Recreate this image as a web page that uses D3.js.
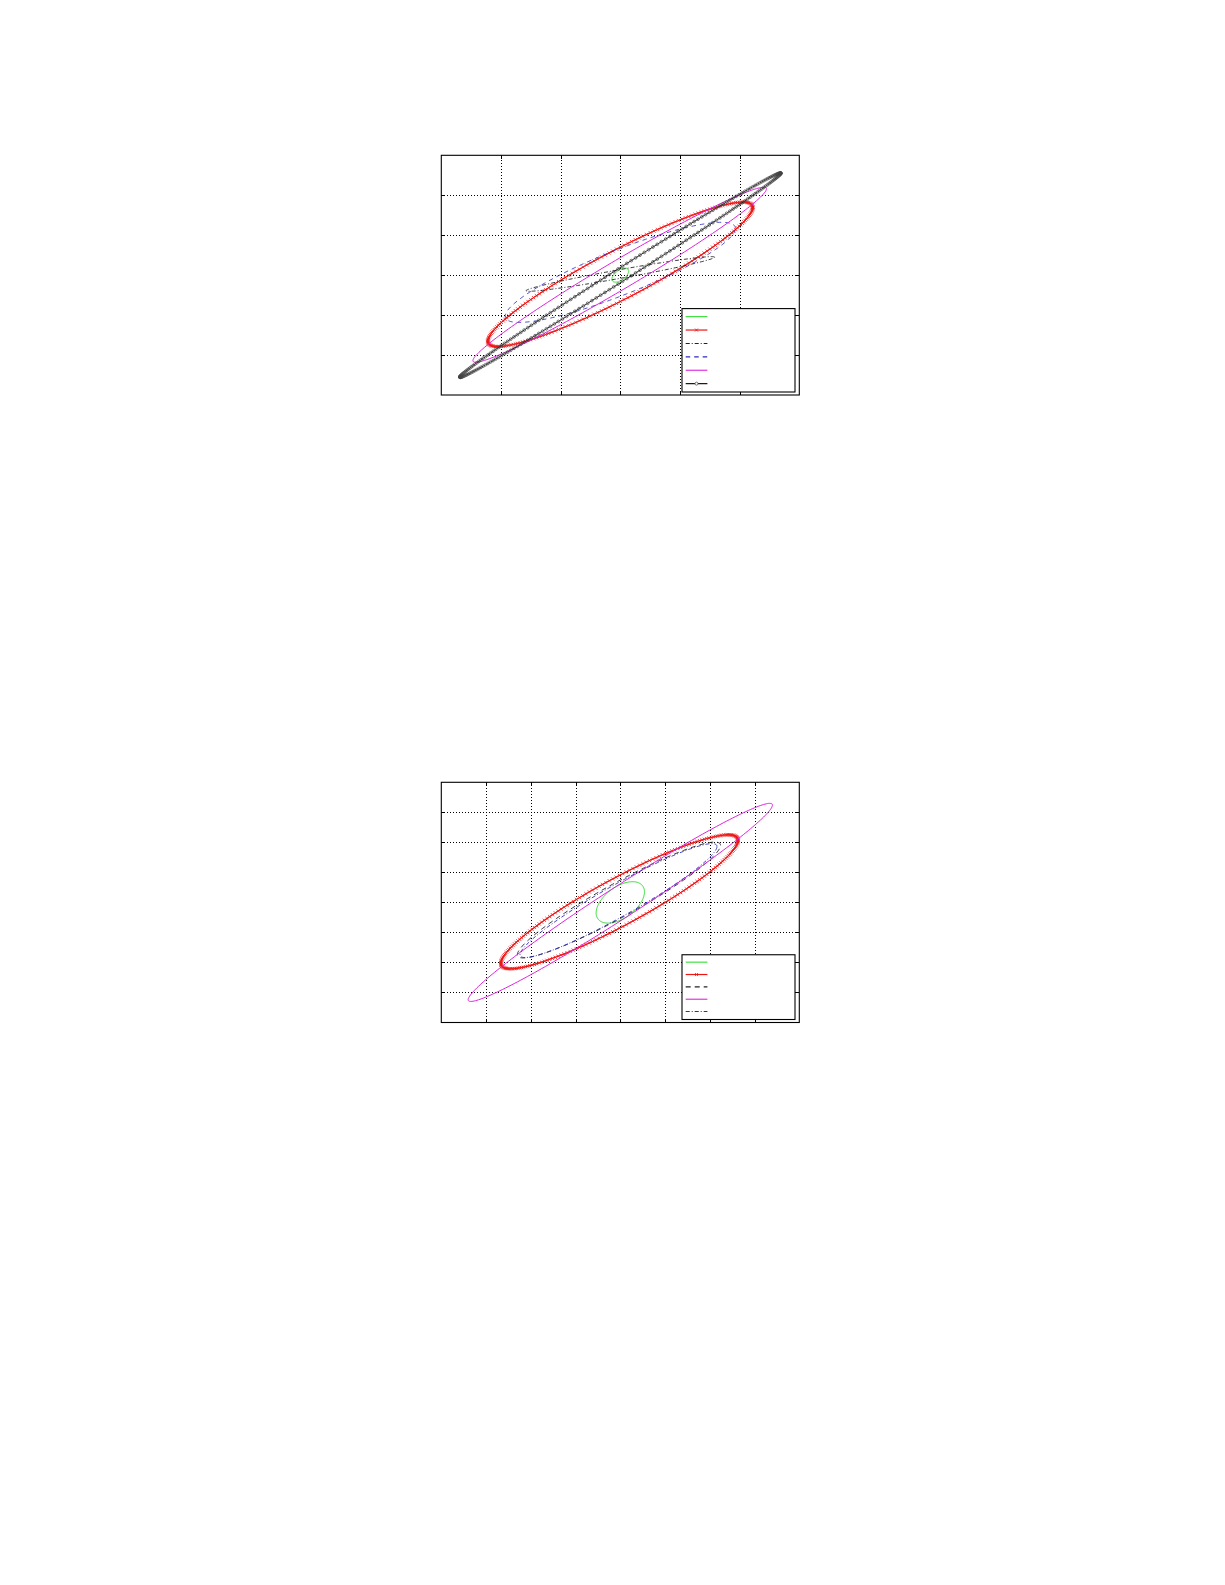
<!DOCTYPE html>
<html>
<head>
<meta charset="utf-8">
<script src="https://cdn.jsdelivr.net/npm/d3@7"></script>
<style>
  body { margin: 0; background: #fff; }
  svg { display: block; }
</style>
</head>
<body>
<div id="figure"></div>
<script>
// ---- data (data units of each panel) ----

// top panel: axis limits and tick values
var topXDomain = [-3, 3];
var topYDomain = [-3, 3];
var topXTicks = [-2, -1, 0, 1, 2];
var topYTicks = [-2, -1, 0, 1, 2];

// top panel ellipses, legend order: green, red-x, black dash-dot, blue dashed, magenta, black-o
// each ellipse: centre, half width, y offset at the rightmost point, half height at the centre
var topCx      = [0,    0,     0,    0,    -0.01, 0];
var topCy      = [0,    0.02,  0.03, 0.07,  0.01, 0];
var topXHalf   = [0.14, 2.22,  1.58, 1.93,  2.46, 2.69];
var topYAtXmax = [0.10, 1.675, 0.42, 1.10,  2.15, 2.55];
var topHalfMid = [0.144, 0.68, 0.11, 0.60,  0.42, 0.19];

// bottom panel
var botXDomain = [-4, 4];
var botYDomain = [-4, 4];
var botXTicks = [-3, -2, -1, 0, 1, 2, 3];
var botYTicks = [-3, -2, -1, 0, 1, 2, 3];

// legend order: green, red-x, black dashed, magenta, blue dash-dot
var botCx      = [0,     -0.02, -0.03, 0,    -0.04];
var botCy      = [0,      0.02,  0.08, 0,     0.06];
var botXHalf   = [0.54,   2.65,  2.27, 3.40,  2.20];
var botYAtXmax = [0.35,   2.05,  1.82, 3.24,  1.80];
var botHalfMid = [0.594,  0.88,  0.64, 0.62,  0.60];

// ---- styles (kept apart from the values) ----
var sGreen   = { color: "#33dd33", width: 1, dash: null, marker: null, n: 160 };
var sRed     = { color: "#ee1515", width: 1.1, dash: null, marker: "x", n: 220 };
var sDashDot = { color: "#222", width: 0.9, dash: "4,2,1,2", marker: null, n: 200 };
var sBlueDash = { color: "#2a2ac0", width: 0.8, dash: "4.5,4", marker: null, n: 200 };
var sMagenta = { color: "#dd22dd", width: 1, dash: null, marker: null, n: 220 };
var sBlackO  = { color: "#111", width: 0.9, dash: null, marker: "o", n: 230 };
var sBlackDash = { color: "#222", width: 0.9, dash: "5,4", marker: null, n: 200 };
var sBlueDashDot = { color: "#2a2ac0", width: 0.9, dash: "4,2,1,2", marker: null, n: 200 };

var width = 1225;
var height = 1585;

var svg = d3.select("#figure").append("svg")
  .attr("width", width)
  .attr("height", height);

svg.append("rect").attr("width", width).attr("height", height).attr("fill", "#fff");

// ellipse through parameter t, same way the original plot sampled it
function ellipsePoints(cx, cy, xh, yx, hm, n) {
  return d3.range(n + 1).map(function(i) {
    var t = 2 * Math.PI * i / n;
    return [cx + xh * Math.cos(t), cy + yx * Math.cos(t) + hm * Math.sin(t)];
  });
}

function drawPanel(cfg) {
  var g = svg.append("g").attr("transform", "translate(" + cfg.left + "," + cfg.top + ")");

  var xScale = d3.scaleLinear().domain(cfg.xDomain).range([0, cfg.w]);
  var yScale = d3.scaleLinear().domain(cfg.yDomain).range([cfg.h, 0]);

  // dotted grid
  var gx = g.append("g").attr("transform", "translate(0," + cfg.h + ")")
    .call(d3.axisBottom(xScale).tickValues(cfg.xTicks).tickSize(-cfg.h).tickFormat(""));
  var gy = g.append("g")
    .call(d3.axisLeft(yScale).tickValues(cfg.yTicks).tickSize(-cfg.w).tickFormat(""));
  [gx, gy].forEach(function(a) {
    a.select(".domain").remove();
    a.selectAll("line").attr("stroke", "#000").attr("stroke-width", 1)
      .attr("stroke-dasharray", "1,2").attr("shape-rendering", "crispEdges");
  });

  // inward ticks on all four sides
  var tk = 4;
  var axes = [
    ["translate(0," + cfg.h + ")", d3.axisBottom(xScale).tickValues(cfg.xTicks)],
    ["translate(0,0)", d3.axisTop(xScale).tickValues(cfg.xTicks)],
    ["translate(0,0)", d3.axisLeft(yScale).tickValues(cfg.yTicks)],
    ["translate(" + cfg.w + ",0)", d3.axisRight(yScale).tickValues(cfg.yTicks)]
  ];
  axes.forEach(function(a) {
    var ax = g.append("g").attr("transform", a[0]).call(a[1].tickSize(-tk).tickFormat(""));
    ax.select(".domain").remove();
    ax.selectAll("line").attr("stroke", "#000").attr("shape-rendering", "crispEdges");
  });

  var clipId = "clip" + cfg.id;
  g.append("clipPath").attr("id", clipId)
    .append("rect").attr("width", cfg.w).attr("height", cfg.h);

  var plot = g.append("g").attr("clip-path", "url(#" + clipId + ")");

  var line = d3.line()
    .x(function(d) { return xScale(d[0]); })
    .y(function(d) { return yScale(d[1]); });

  cfg.styles.forEach(function(st, i) {
    var pts = ellipsePoints(cfg.cx[i], cfg.cy[i], cfg.xHalf[i], cfg.yAtXmax[i], cfg.halfMid[i], st.n);

    plot.append("path")
      .datum(pts)
      .attr("d", line)
      .attr("fill", "none")
      .attr("stroke", st.color)
      .attr("stroke-width", st.width)
      .attr("stroke-dasharray", st.dash);

    if (st.marker === "x") {
      var s = 1.6;
      var dstr = pts.map(function(p) {
        var px = xScale(p[0]), py = yScale(p[1]);
        return "M" + (px - s) + "," + (py - s) + "L" + (px + s) + "," + (py + s) +
               "M" + (px - s) + "," + (py + s) + "L" + (px + s) + "," + (py - s);
      }).join("");
      plot.append("path").attr("d", dstr)
        .attr("fill", "none").attr("stroke", st.color).attr("stroke-width", 0.8);
    }
    if (st.marker === "o") {
      plot.selectAll("circle.m" + i).data(pts).enter()
        .append("circle")
        .attr("class", "m" + i)
        .attr("cx", function(d) { return xScale(d[0]); })
        .attr("cy", function(d) { return yScale(d[1]); })
        .attr("r", 1.4)
        .attr("fill", "none")
        .attr("stroke", "#444")
        .attr("stroke-width", 0.7);
    }
  });

  // frame
  g.append("rect")
    .attr("width", cfg.w).attr("height", cfg.h)
    .attr("fill", "none").attr("stroke", "#000").attr("stroke-width", 1.1);

  // legend box in the lower right corner (no text in the figure)
  var lw = 113, lh = cfg.rowH * cfg.styles.length + 3;
  var lg = g.append("g")
    .attr("transform", "translate(" + (cfg.w - lw - 4.3) + "," + (cfg.h - lh - 3) + ")");
  lg.append("rect")
    .attr("width", lw).attr("height", lh)
    .attr("fill", "#fff").attr("stroke", "#000").attr("stroke-width", 1.1);

  cfg.styles.forEach(function(st, i) {
    var yy = cfg.rowH * i + cfg.rowH * 0.6;
    lg.append("line")
      .attr("x1", 3.7).attr("x2", 25.4).attr("y1", yy).attr("y2", yy)
      .attr("stroke", st.color)
      .attr("stroke-width", st.marker ? 1.2 : Math.max(st.width, 1.1))
      .attr("stroke-dasharray", st.dash);
    if (st.marker === "x") {
      lg.append("path")
        .attr("d", "M13,"+(yy-1.5)+"L16,"+(yy+1.5)+"M13,"+(yy+1.5)+"L16,"+(yy-1.5))
        .attr("stroke", st.color).attr("stroke-width", 0.8);
    }
    if (st.marker === "o") {
      lg.append("circle").attr("cx", 14.5).attr("cy", yy).attr("r", 1.5)
        .attr("fill", "#fff").attr("stroke", "#555").attr("stroke-width", 0.8);
    }
  });
}

drawPanel({
  id: 1, left: 441.3, top: 155.3, w: 358, h: 239.7,
  xDomain: topXDomain, yDomain: topYDomain, xTicks: topXTicks, yTicks: topYTicks,
  cx: topCx, cy: topCy, xHalf: topXHalf, yAtXmax: topYAtXmax, halfMid: topHalfMid,
  styles: [sGreen, sRed, sDashDot, sBlueDash, sMagenta, sBlackO],
  rowH: 13.4
});

drawPanel({
  id: 2, left: 441.3, top: 782.3, w: 358, h: 240.2,
  xDomain: botXDomain, yDomain: botYDomain, xTicks: botXTicks, yTicks: botYTicks,
  cx: botCx, cy: botCy, xHalf: botXHalf, yAtXmax: botYAtXmax, halfMid: botHalfMid,
  styles: [sGreen, sRed, sBlackDash, sMagenta, sBlueDashDot],
  rowH: 12.35
});
</script>
</body>
</html>
